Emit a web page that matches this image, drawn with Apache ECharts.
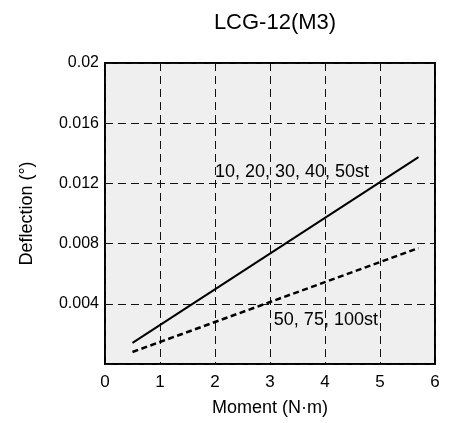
<!DOCTYPE html>
<html>
<head>
<meta charset="utf-8">
<script src="https://cdn.jsdelivr.net/npm/echarts@6/dist/echarts.min.js"></script>
<style>html,body{margin:0;padding:0;background:#fff;}#c{width:454px;height:423px;}</style>
</head>
<body>
<div id="c"></div>
<script>
var titleText = 'LCG-12(M3)';
var xName = 'Moment (N·m)';
var yName = 'Deflection (°)';
var xTicks = [0, 1, 2, 3, 4, 5, 6];
var yTicks = [0, 0.004, 0.008, 0.012, 0.016, 0.02];
var momentSolid = [0.5, 5.7];
var deflSolid = [0.0014, 0.01375];
var momentDashed = [0.5, 5.7];
var deflDashed = [0.0008, 0.0077];
var labelSolid = '10, 20, 30, 40, 50st';
var labelDashed = '50, 75, 100st';
var labelSolidAt = [2.0, 0.01275];
var labelDashedAt = [3.07, 0.00293];

var font = '"Liberation Sans", Arial, Helvetica, sans-serif';

function pairs(xs, ys) { return xs.map(function (x, i) { return [x, ys[i]]; }); }

var chart = echarts.init(document.getElementById('c'), null, { renderer: 'canvas' });
chart.setOption({
  animation: false,
  backgroundColor: '#fff',
  title: {
    text: titleText,
    left: 270,
    top: 7,
    textAlign: 'center',
    textStyle: { fontFamily: font, fontSize: 22, fontWeight: 'normal', color: '#000' }
  },
  grid: {
    left: 105, right: 19, top: 63, bottom: 59,
    show: true, backgroundColor: '#efefef', borderColor: '#000', borderWidth: 2
  },
  xAxis: {
    type: 'value',
    min: xTicks[0], max: xTicks[xTicks.length - 1], interval: xTicks[1] - xTicks[0],
    name: xName, nameLocation: 'middle', nameGap: 35,
    nameTextStyle: { fontFamily: font, fontSize: 18, color: '#000' },
    axisLine: { show: false },
    axisTick: { show: false },
    axisLabel: { fontFamily: font, fontSize: 17, color: '#000', margin: 10 },
    splitLine: { show: true, lineStyle: { color: '#111', width: 1, type: [8, 5] } }
  },
  yAxis: {
    type: 'value',
    min: yTicks[0], max: yTicks[yTicks.length - 1], interval: yTicks[1] - yTicks[0],
    name: yName, nameLocation: 'middle', nameGap: 69,
    nameTextStyle: { fontFamily: font, fontSize: 18, color: '#000' },
    axisLine: { show: false },
    axisTick: { show: false },
    axisLabel: {
      fontFamily: font, fontSize: 16, color: '#000', margin: 6,
      formatter: function (v) { return v === 0 ? '' : String(+v.toFixed(4)); }
    },
    splitLine: { show: true, lineStyle: { color: '#111', width: 1, type: [8, 5] } }
  },
  series: [
    {
      type: 'line', data: pairs(momentSolid, deflSolid), symbol: 'none',
      lineStyle: { color: '#000', width: 2, type: 'solid' },
      markPoint: {
        symbol: 'circle', symbolSize: 0, silent: true,
        label: { show: true, position: 'inside', align: 'left', verticalAlign: 'middle',
          fontFamily: font, fontSize: 18, color: '#000', formatter: labelSolid },
        data: [{ coord: labelSolidAt }]
      }
    },
    {
      type: 'line', data: pairs(momentDashed, deflDashed), symbol: 'none',
      lineStyle: { color: '#000', width: 2.5, type: [6, 3.5] },
      markPoint: {
        symbol: 'circle', symbolSize: 0, silent: true,
        label: { show: true, position: 'inside', align: 'left', verticalAlign: 'middle',
          fontFamily: font, fontSize: 18, color: '#000', formatter: labelDashed },
        data: [{ coord: labelDashedAt }]
      }
    }
  ]
});
</script>
</body>
</html>
